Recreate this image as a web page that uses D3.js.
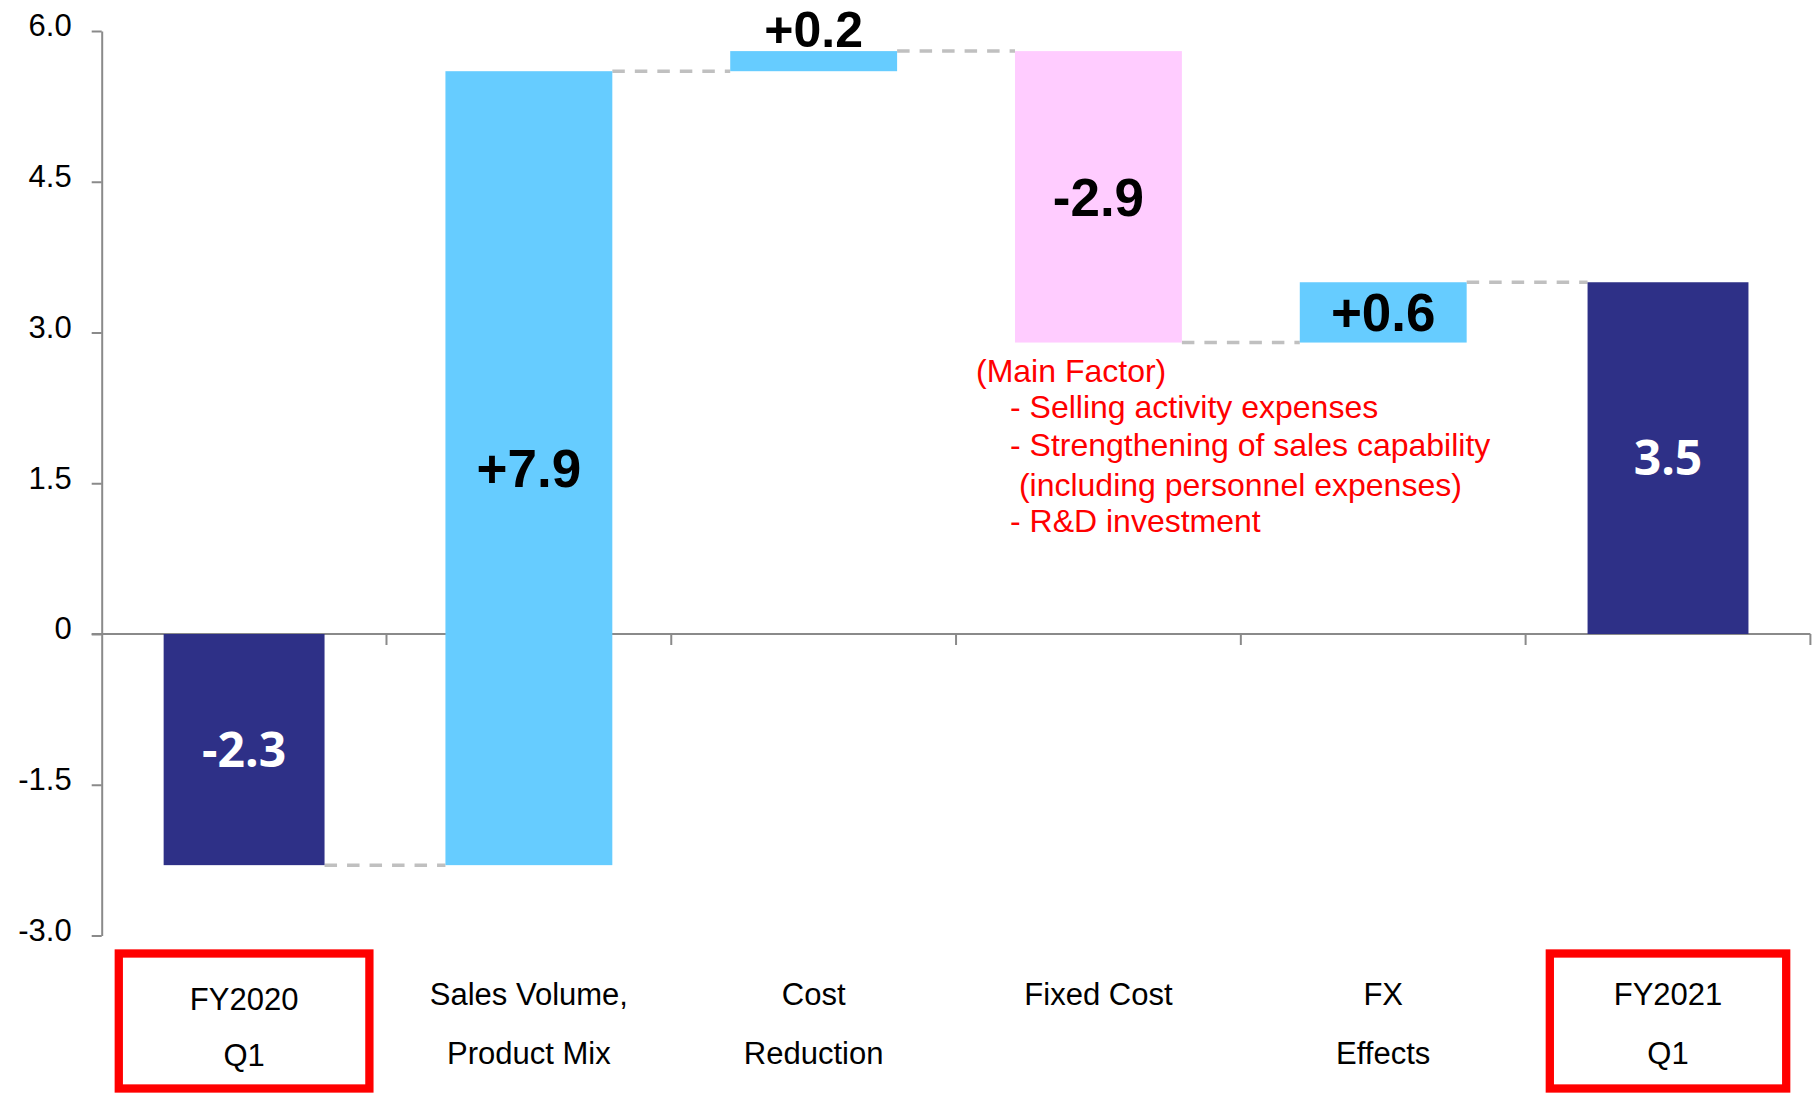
<!DOCTYPE html>
<html>
<head>
<meta charset="utf-8">
<script src="https://cdn.jsdelivr.net/npm/d3@7"></script>
<style>
  html, body { margin: 0; padding: 0; background: #ffffff; }
  svg { display: block; }
</style>
</head>
<body>
<script>
// Operating income bridge: FY2020 Q1 -> FY2021 Q1
const categoryLines = [
  ["FY2020", "Q1"],
  ["Sales Volume,", "Product Mix"],
  ["Cost", "Reduction"],
  ["Fixed Cost"],
  ["FX", "Effects"],
  ["FY2021", "Q1"]
];
const values = [-2.3, 7.9, 0.2, -2.9, 0.6, 3.5];
const kinds = ["total", "delta", "delta", "delta", "delta", "total"];
const valueLabels = ["-2.3", "+7.9", "+0.2", "-2.9", "+0.6", "3.5"];
const yTicks = [-3.0, -1.5, 0, 1.5, 3.0, 4.5, 6.0];
const yTickLabels = ["-3.0", "-1.5", "0", "1.5", "3.0", "4.5", "6.0"];
const noteLines = [
  "(Main Factor)",
  "- Selling activity expenses",
  "- Strengthening of sales capability",
  " (including personnel expenses)",
  "- R&D investment"
];

const W = 1816, H = 1096;
const plot = { left: 101.7, right: 1810.4, top: 31, bottom: 935.5 };
const colors = { total: "#2e3087", up: "#66ccff", down: "#ffccff", axis: "#8a8a8a", link: "#c0c0c0", note: "#ff0000" };
const barFrac = { total: 0.565, delta: 0.586 };
const frameFrac = [0.88, 0.83];

const svg = d3.select("body").append("svg").attr("width", W).attr("height", H);

const idx = d3.range(values.length);
const x = d3.scaleBand().domain(idx).range([plot.left, plot.right]).padding(0);
const y = d3.scaleLinear().domain([-3, 6]).range([plot.bottom, plot.top]);
const bw = x.bandwidth();

// running totals for the waterfall
let run = 0;
const bars = idx.map(i => {
  const v = values[i];
  let lo, hi;
  if (kinds[i] === "total") { lo = Math.min(0, v); hi = Math.max(0, v); run = v; }
  else { const s = run; run = run + v; lo = Math.min(s, run); hi = Math.max(s, run); }
  const w = barFrac[kinds[i]] * bw;
  const cx = x(i) + bw / 2;
  const fill = kinds[i] === "total" ? colors.total : (v >= 0 ? colors.up : colors.down);
  return { i, v, lo, hi, level: run, w, cx, fill };
});

// y axis
const yAxis = svg.append("g")
  .attr("transform", `translate(${plot.left},0)`)
  .call(d3.axisLeft(y).tickValues(yTicks).tickFormat((d, i) => yTickLabels[i])
    .tickSizeInner(10).tickSizeOuter(0).tickPadding(20));
yAxis.select(".domain").attr("stroke", colors.axis).attr("stroke-width", 2);
yAxis.selectAll(".tick line").attr("stroke", colors.axis).attr("stroke-width", 2);
yAxis.selectAll(".tick text")
  .attr("fill", "#000").attr("dy", "0.16em")
  .style("font-family", "'Liberation Sans', Arial, sans-serif").style("font-size", "31px");

// zero line with category boundary ticks
svg.append("line")
  .attr("x1", plot.left - 10).attr("x2", plot.right)
  .attr("y1", y(0)).attr("y2", y(0))
  .attr("stroke", colors.axis).attr("stroke-width", 2);
svg.append("g").selectAll("line").data(idx).join("line")
  .attr("x1", i => x(i) + bw).attr("x2", i => x(i) + bw)
  .attr("y1", y(0)).attr("y2", y(0) + 11)
  .attr("stroke", colors.axis).attr("stroke-width", 2);

// dashed connectors between bars
svg.append("g").selectAll("line").data(bars.slice(0, -1)).join("line")
  .attr("x1", d => d.cx + d.w / 2)
  .attr("x2", d => bars[d.i + 1].cx - bars[d.i + 1].w / 2)
  .attr("y1", d => y(d.level)).attr("y2", d => y(d.level))
  .attr("stroke", colors.link).attr("stroke-width", 3.5)
  .attr("stroke-dasharray", "12.5 10");

// bars
svg.append("g").selectAll("rect").data(bars).join("rect")
  .attr("x", d => d.cx - d.w / 2).attr("width", d => d.w)
  .attr("y", d => y(d.hi)).attr("height", d => y(d.lo) - y(d.hi))
  .attr("fill", d => d.fill);

// value labels: inside tall bars, above thin ones
svg.append("g").selectAll("text").data(bars).join("text")
  .attr("x", d => d.cx)
  .attr("y", d => {
    const h = y(d.lo) - y(d.hi);
    return h < 40 ? y(d.hi) - 4 : (y(d.lo) + y(d.hi)) / 2;
  })
  .attr("dy", d => (y(d.lo) - y(d.hi)) < 40 ? "0" : "0.36em")
  .attr("text-anchor", "middle")
  .attr("fill", d => kinds[d.i] === "total" ? "#ffffff" : "#000000")
  .style("font-family", d => kinds[d.i] === "total" ? "'Open Sans', sans-serif" : "'Liberation Sans', Arial, sans-serif")
  .style("font-size", d => kinds[d.i] === "total" ? "48px" : ((y(d.lo) - y(d.hi)) < 40 ? "50px" : "53px"))
  .style("font-weight", "bold")
  .text(d => valueLabels[d.i]);

// category labels
const catG = svg.append("g")
  .style("font-family", "'Liberation Sans', Arial, sans-serif").style("font-size", "31px");
idx.forEach(i => {
  const baselines = i === 0 ? [1010, 1066] : [1004.5, 1063.5];
  categoryLines[i].forEach((line, k) => {
    catG.append("text")
      .attr("x", x(i) + bw / 2).attr("y", baselines[k])
      .attr("text-anchor", "middle").attr("fill", "#000")
      .text(line);
  });
});

// frames around the two period totals
svg.append("g").selectAll("rect").data(bars.filter(d => kinds[d.i] === "total")).join("rect")
  .attr("x", (d, k) => d.cx - frameFrac[k] * bw / 2).attr("width", (d, k) => frameFrac[k] * bw)
  .attr("y", 953.5).attr("height", 135)
  .attr("fill", "none").attr("stroke", "#ff0000").attr("stroke-width", 8.3);

// note on fixed cost drivers
const noteX = [976, 1010, 1010, 1010, 1010];
const noteY = [382, 418, 456, 496, 532];
svg.append("g")
  .style("font-family", "'Liberation Sans', Arial, sans-serif").style("font-size", "32px")
  .selectAll("text").data(noteLines).join("text")
  .attr("x", (d, i) => noteX[i]).attr("y", (d, i) => noteY[i])
  .attr("fill", colors.note).attr("xml:space", "preserve")
  .style("white-space", "pre")
  .text(d => d);
</script>
</body>
</html>
